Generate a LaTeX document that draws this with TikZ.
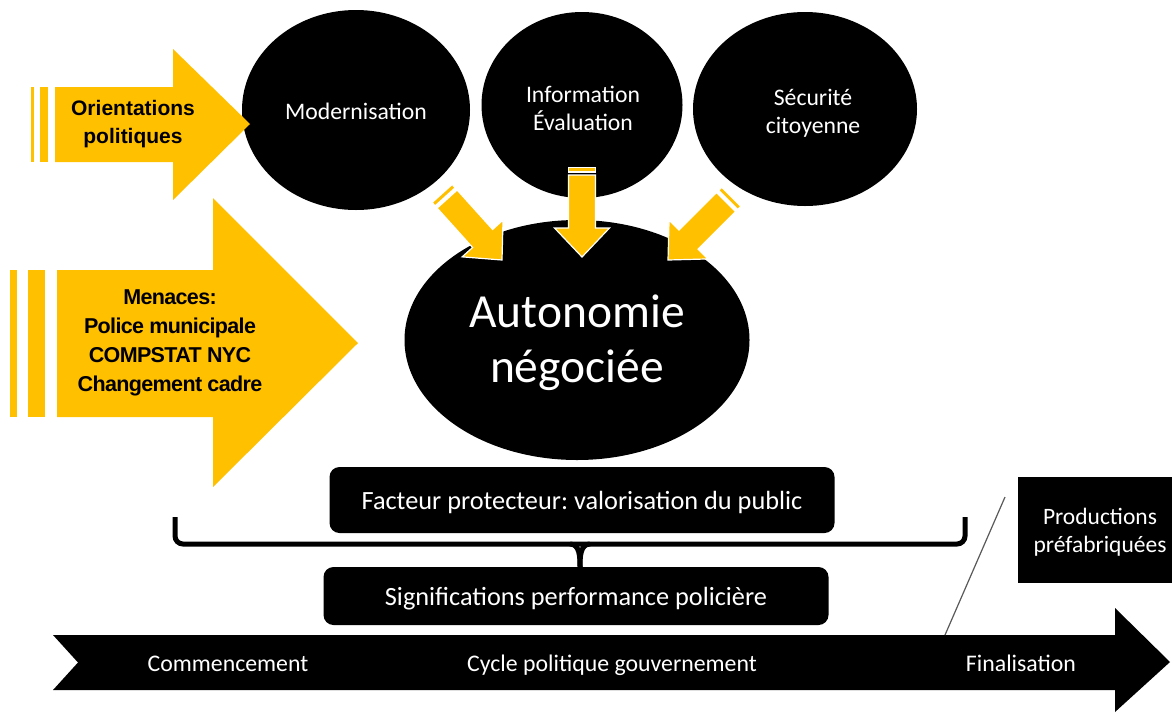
\documentclass[tikz,border=0pt]{standalone}
\usepackage{fontspec}
\setmainfont{Carlito}
\newfontfamily\arialfont{Liberation Sans}
\newfontfamily\arialtight{Liberation Sans}[LetterSpace=-3.0]
\usetikzlibrary{shapes.geometric}
\definecolor{gold}{HTML}{FFC000}
\frenchspacing
\tikzset{
  blob/.style={ellipse, fill=black, inner sep=0pt},
  wtext/.style={text=white, align=center, inner sep=0pt,
    font=\fontsize{23.7}{28}\selectfont},
  yel/.style={fill=gold, draw=white, line width=1.2pt},
  bigyel/.style={fill=gold},
  blkbox/.style={fill=black, rounded corners=10pt, text=white, inner sep=0pt,
    text height=22pt, text depth=3pt, font=\fontsize{26.3}{30}\selectfont},
  ytext/.style={align=center, text=black, inner sep=0pt},
  btext/.style={text=white, inner sep=0pt, anchor=base, font=\fontsize{23.8}{28}\selectfont},
  smallarr/.pic={
    \path[yel] (0,0) -- (-29,-27.5) -- (-29,-13.5) -- (-82,-13.5) -- (-82,13.5)
      -- (-29,13.5) -- (-29,27.5) -- cycle;
    \path[yel] (-85,-13.5) rectangle (-89.5,13.5);
  }
}
\begin{document}
\begin{tikzpicture}[x=1pt,y=-1pt]
\useasboundingbox (0,0) rectangle (1172,713);
\fill[white] (0,0) rectangle (1172,713);

% top ellipses
\node[blob, minimum width=228pt, minimum height=200pt] (mod) at (356,110) {};
\node[wtext] (modt) at (356,111) {Modernisation};
\node[blob, minimum width=201pt, minimum height=186pt] (info) at (582,105) {};
\node[wtext] (infot) at (583,108) {Information\\Évaluation};
\node[blob, minimum width=224pt, minimum height=194pt] (secu) at (805,109) {};
\node[wtext] (secut) at (813,113) {Sécurité\\citoyenne};

% central ellipse
\node[blob, minimum width=345pt, minimum height=240pt] (auto) at (577,340) {};
\node[wtext, font=\fontsize{47.5}{55}\selectfont] (autot) at (577,343) {Autonomie\\négociée};

% big yellow arrows
\path[bigyel] (55,87) -- (173,87) -- (173,49) -- (250,124) -- (173,200) -- (173,162) -- (55,162) -- cycle;
\fill[gold] (31,87) rectangle (34,162);
\fill[gold] (40,87) rectangle (48,162);
\node[ytext, font={\arialfont\bfseries\fontsize{21}{28}\selectfont}] (orient) at (133,124) {Orientations\\politiques};

\path[bigyel] (57,270) -- (213,270) -- (213,198) -- (358,343) -- (213,487) -- (213,417) -- (57,417) -- cycle;
\fill[gold] (10,270) rectangle (17,417);
\fill[gold] (28,270) rectangle (45,417);
\node[ytext, font={\arialtight\bfseries\fontsize{21.5}{29}\selectfont}] (men) at (170,343) {Menaces:\\Police municipale\\COMPSTAT NYC\\Changement cadre};

% small yellow arrows
\pic[rotate=-48] at (502,260) {smallarr};
\pic[rotate=-90] at (582,257) {smallarr};
\pic[rotate=-135] at (668,260) {smallarr};

% boxes
\node[blkbox, minimum width=505pt, minimum height=66pt] (fact) at (582,500) {Facteur protecteur: valorisation du public};
\node[blkbox, minimum width=505pt, minimum height=58pt] (sig) at (576,596) {Significations performance policière};

% bracket
\coordinate (bl) at (175,517);
\coordinate (br) at (965,517);
\coordinate (bc) at (580,544);
\draw[line width=5pt, rounded corners=8pt] (bl) -- (175,544) -- (965,544) -- (br);
\draw[line width=5pt] (570,544) to[out=0,in=90] (bc|-sig.north) ;
\draw[line width=5pt] (590,544) to[out=180,in=90] (bc|-sig.north);

% productions box
\node[fill=black, minimum width=160pt, minimum height=106pt, inner sep=0pt, anchor=north west] (prod) at (1018,477) {};
\node[wtext, font=\fontsize{23.5}{28}\selectfont] (prodt) at (1100,532) {Productions\\préfabriquées};

% bottom arrow
\path[fill=black] (53,635) -- (1115,635) -- (1115,608) -- (1170,662) -- (1115,712) -- (1115,690) -- (53,690) -- (78,662.5) -- cycle;
\node[btext] (comm) at (228,671) {Commencement};
\node[btext] (cycle) at (612,671) {Cycle politique gouvernement};
\node[btext] (fin) at (1021,671) {Finalisation};

% thin gray line
\coordinate (g1) at (1005,497);
\coordinate (g2) at (945,635);
\draw[black!65, line width=1.2pt] (g1) -- (g2);
\end{tikzpicture}
\end{document}
